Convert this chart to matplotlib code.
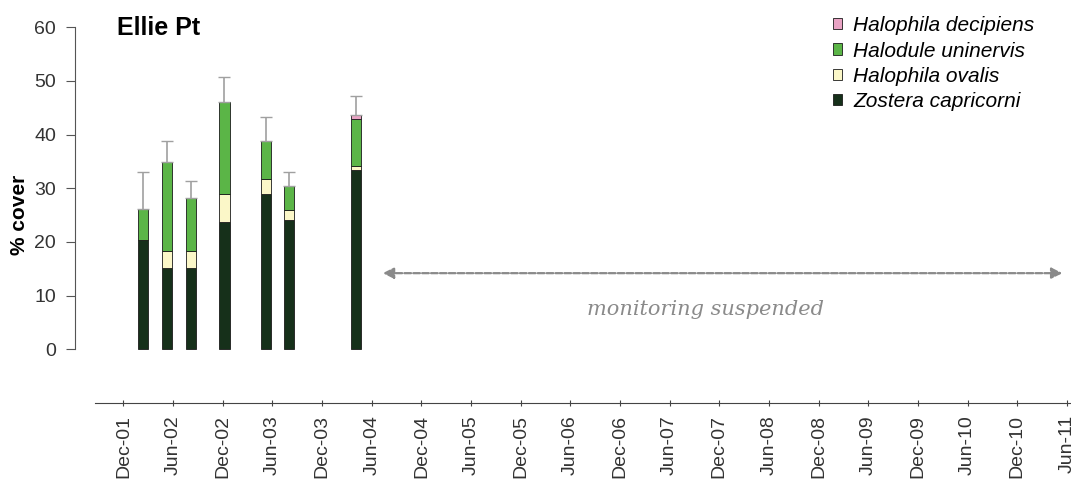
import numpy as np
import matplotlib.pyplot as plt

plt.rcParams['font.family'] = ['Liberation Sans', 'DejaVu Sans']

# survey times, in months after Dec-01
months = [2.4, 5.3, 8.2, 12.2, 17.2, 20.0, 28.1]

# mean % cover of each species per survey
zostera = [20.3, 15.2, 15.2, 23.8, 28.9, 24.1, 33.4]
ovalis = [0.0, 3.2, 3.2, 5.1, 2.9, 1.9, 0.7]
halodule = [5.9, 16.4, 9.7, 17.2, 7.0, 4.5, 8.8]
decipiens = [0.0, 0.0, 0.0, 0.0, 0.0, 0.0, 0.7]
# top of the error bar (total + SE)
err_top = [33.1, 38.8, 31.4, 50.7, 43.2, 33.1, 47.1]

tick_labels = ['Dec-01', 'Jun-02', 'Dec-02', 'Jun-03', 'Dec-03', 'Jun-04',
               'Dec-04', 'Jun-05', 'Dec-05', 'Jun-06', 'Dec-06', 'Jun-07',
               'Dec-07', 'Jun-08', 'Dec-08', 'Jun-09', 'Dec-09', 'Jun-10',
               'Dec-10', 'Jun-11']

series = [
    ('Zostera capricorni', zostera, '#16301a'),
    ('Halophila ovalis', ovalis, '#fbf7c8'),
    ('Halodule uninervis', halodule, '#5bb547'),
    ('Halophila decipiens', decipiens, '#e9a3c4'),
]

fig = plt.figure(figsize=(10.71, 4.84), dpi=100)
ax = fig.add_axes([0.070, 0.167, 0.930, 0.777])

x = np.array(months)
bottom = np.zeros(len(x))
handles = []
for name, vals, col in series:
    vals = np.array(vals)
    b = ax.bar(x, vals, width=1.25, bottom=bottom, color=col,
               edgecolor='#1a1a1a', linewidth=0.6, label=name)
    handles.append(b)
    bottom = bottom + vals

# upward-only error bars
err = np.array(err_top) - bottom
ax.errorbar(x, bottom, yerr=[np.zeros(len(x)), err], fmt='none',
            ecolor='#a0a0a0', elinewidth=1.2, capsize=4, capthick=1.0)

# arrow for the suspended period
ax.annotate('', xy=(31.0, 14.2), xytext=(113.8, 14.2),
            arrowprops=dict(arrowstyle='<|-|>', color='#8a8a8a', lw=1.6,
                            linestyle=(0, (3, 1)), mutation_scale=16))
ax.text(70.3, 7.5, 'monitoring suspended', fontsize=15, style='italic',
        family='DejaVu Serif', color='#8a8a8a', ha='center', va='center')

ax.text(-0.8, 59.8, 'Ellie Pt', fontsize=18, fontweight='bold',
        ha='left', va='center')

ax.set_xlim(-5.86, 114.5)
ax.set_ylim(-10, 60)

ax.spines['top'].set_visible(False)
ax.spines['right'].set_visible(False)
ax.spines['left'].set_bounds(0, 60)
ax.spines['bottom'].set_bounds(-3.44, 114.5)
ax.spines['left'].set_color('#555555')
ax.spines['bottom'].set_color('#444444')

ax.set_yticks(range(0, 61, 10))
ax.tick_params(axis='y', labelsize=14, length=6.5, pad=7, colors='#555555',
               labelcolor='#333333')
ax.set_xticks(np.arange(len(tick_labels)) * 6)
ax.set_xticklabels(tick_labels, rotation=90)
ax.tick_params(axis='x', labelsize=14, length=5, pad=6, colors='#444444',
               labelcolor='#333333', direction='inout')
ax.set_ylabel('% cover', fontsize=15, fontweight='bold')
ax.yaxis.set_label_coords(-0.046, 0.5)

leg = fig.legend(handles=handles[::-1], loc='upper left',
                 bbox_to_anchor=(0.774, 0.975), frameon=False,
                 prop={'style': 'italic', 'size': 15},
                 handlelength=0.45, handleheight=0.45, handletextpad=0.5,
                 labelspacing=0.3, borderpad=0.2, borderaxespad=0)

fig.savefig('out.png', dpi=100)
